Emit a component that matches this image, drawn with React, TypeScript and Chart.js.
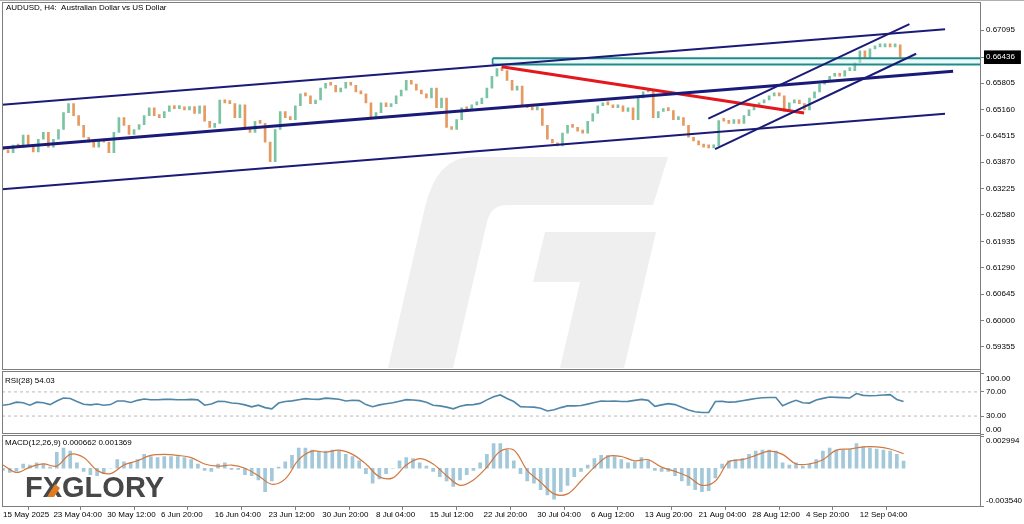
import React, { useEffect, useRef } from "react";
import { Chart, registerables } from "chart.js";

Chart.register(...registerables);

// ---------- DATA ----------
// H4 bar index is the x unit; one candle every 3 H4 bars
const candleStep = 3;
const firstOpen = 0.642;
const closes = [
  0.6417, 0.641, 0.6429, 0.6424, 0.6453, 0.6429, 0.6412, 0.6443, 0.646, 0.6424,
  0.6443, 0.6467, 0.6508, 0.653, 0.6501, 0.6477, 0.6448, 0.6436, 0.6424, 0.6443,
  0.6436, 0.641, 0.646, 0.6496, 0.6477, 0.6455, 0.6467, 0.6479, 0.6501, 0.652,
  0.6501, 0.6496, 0.6511, 0.6525, 0.6518, 0.652, 0.6515, 0.6523, 0.6506, 0.6525,
  0.6487, 0.6472, 0.6482, 0.6539, 0.6532, 0.653, 0.6496, 0.6527, 0.6472, 0.646,
  0.6487, 0.6482, 0.6436, 0.6388, 0.6467, 0.6511, 0.6496, 0.6491, 0.6525, 0.6554,
  0.6549, 0.653, 0.6539, 0.6568, 0.658, 0.6575, 0.6559, 0.6568, 0.6582, 0.6575,
  0.6559, 0.6554, 0.6532, 0.6496, 0.6508, 0.6532, 0.6523, 0.653, 0.6549, 0.6563,
  0.6587, 0.6578, 0.6563, 0.6554, 0.6544, 0.6568, 0.652, 0.6544, 0.6472, 0.6467,
  0.6491, 0.652, 0.6515, 0.6527, 0.653, 0.6544, 0.6568, 0.6597, 0.6616, 0.6611,
  0.6587, 0.6563, 0.6573, 0.6525, 0.652, 0.6515, 0.6518, 0.6477, 0.6443, 0.6434,
  0.6427, 0.6458, 0.6477, 0.6472, 0.6463, 0.6458, 0.6487, 0.6506, 0.6525, 0.653,
  0.6527, 0.652, 0.6525, 0.6511, 0.652, 0.6491, 0.6544, 0.6559, 0.6561, 0.6496,
  0.6511, 0.6515, 0.6513, 0.6491, 0.6496, 0.6477, 0.6448, 0.6439, 0.6429, 0.6424,
  0.6422, 0.6427, 0.6489, 0.6487, 0.6482, 0.6491, 0.6482, 0.6501, 0.6515, 0.6525,
  0.6532, 0.6539, 0.6549, 0.6551, 0.6549, 0.6511, 0.6532, 0.6539, 0.653, 0.6515,
  0.6544, 0.6559, 0.6578, 0.6587, 0.6597, 0.6602, 0.6597, 0.6611, 0.6611, 0.663,
  0.6659, 0.664, 0.6664, 0.6669, 0.6669, 0.6676, 0.6669, 0.6674, 0.6644,
];

const rsiStep = 4;
const rsiValues = [
  47.8, 49.5, 53, 52, 48, 53, 52, 49, 55, 60,
  59, 54, 49.5, 48.5, 50, 48, 49, 55, 55, 52.5,
  56, 58.2, 57, 57, 57.6, 57.6, 57, 57, 57.6, 56.8,
  48, 50, 54.5, 54, 51.5, 50.8, 48.5, 45.2, 48, 44,
  42, 51.5, 54, 55.2, 57, 58.8, 57.8, 57.6, 59.7, 58.8,
  57.8, 55, 56.2, 55.5, 49, 45.5, 48.5, 50.5, 52, 54.5,
  57.2, 56.5, 55.6, 53, 48, 46.8, 44.8, 42, 46.3, 48.5,
  49, 51, 56.8, 62, 65, 59, 54, 45.6, 45, 44.8,
  43, 38.5, 40.3, 44, 46.8, 46.8, 47.5, 49.8, 52.3, 55,
  54.6, 55, 54, 54.3, 56, 57.6, 56, 46, 48.5, 50.5,
  49, 44.5, 40, 37.2, 36, 36, 54, 54.3, 53, 53.5,
  55.4, 57.2, 59.2, 60.3, 60.8, 60.8, 47, 52, 56, 52,
  51.5, 56.5, 59.3, 61.6, 61, 60.5, 60, 67.3, 64.3, 63.6,
  64, 64.8, 65.5, 57.5, 54.03,
];

const macdStep = 4;
const macdHist = [
  -0.0002, -0.0004, -0.0003, 0.0004, 0.0003, 0.0005, 0.0004, 0.0001, 0.0015, 0.0019,
  0.0016, 0.0005, -0.0003, -0.0006, -0.0007, -0.0005, 0, 0.0008, 0.0006, 0.0005,
  0.0008, 0.0013, 0.0011, 0.001, 0.0011, 0.0011, 0.0011, 0.001, 0.0008, 0.0004,
  -0.0002, -0.0003, 0.0004, 0.0005, -0.0001, -0.0001, -0.0006, -0.0007, -0.0011, -0.0022,
  -0.0012, 0.0001, 0.0006, 0.0012, 0.0019, 0.0019, 0.0017, 0.0015, 0.0016, 0.0017,
  0.0016, 0.0013, 0.0011, 0.0007, -0.0005, -0.0014, -0.001, -0.0005, 0, 0.0007,
  0.001, 0.0009, 0.0005, 0.0002, -0.0003, -0.0008, -0.0012, -0.0017, -0.0011, -0.0006,
  -0.0002, 0.0005, 0.0013, 0.0023, 0.0023, 0.0017, 0.0007, -0.0005, -0.0012, -0.0014,
  -0.002, -0.0025, -0.0029, -0.0022, -0.0016, -0.0008, -0.0003, 0.0003, 0.0009, 0.0012,
  0.0012, 0.0011, 0.0008, 0.0005, 0.0006, 0.001, 0.0007, -0.0002, -0.0003, -0.0003,
  -0.0007, -0.0012, -0.0016, -0.002, -0.0022, -0.0021, -0.0009, 0.0004, 0.0007, 0.0008,
  0.0009, 0.0013, 0.0016, 0.0017, 0.0017, 0.0016, 0.0005, 0.0003, 0.0005, 0.0002,
  0.0004, 0.0008, 0.0016, 0.0019, 0.0017, 0.0017, 0.0018, 0.0023, 0.002, 0.0019,
  0.0018, 0.0017, 0.0016, 0.0013, 0.000662,
];

const signalStep = 8;
const macdSignal = [
  0.0003, -0.0004, 0.0001, 0.0004, 0.0002, 0.0013, 0.001, -0.0002, -0.0005, 0.0003,
  0.0007, 0.0012, 0.0013, 0.0012, 0.001, 0.0004, 0.0002, 0.0003, 0.0, -0.0007,
  -0.0015, -0.001, 0.0008, 0.0016, 0.0015, 0.0017, 0.0013, 0.0004, -0.0008, -0.0009,
  0.0003, 0.0009, 0.0004, -0.0007, -0.0016, -0.0011, 0.0001, 0.0016, 0.0017, -0.0002,
  -0.0013, -0.0024, -0.0024, -0.0012, 0.0001, 0.0011, 0.0011, 0.0007, 0.0008, 0.0001,
  -0.0003, -0.0008, -0.0016, -0.0012, 0.0006, 0.0008, 0.0012, 0.0016, 0.0013, 0.0004,
  0.0004, 0.0008, 0.0017, 0.0018, 0.002, 0.002, 0.0018, 0.001369,
];

// drawn objects (x in H4 bar index, y in price)
const upperChannel = [{ x: -0.6, y: 0.65273 }, { x: 560.7, y: 0.67119 }];
const middleChannel = [{ x: -0.6, y: 0.64218 }, { x: 565.5, y: 0.66095 }];
const lowerChannel = [{ x: -0.6, y: 0.63211 }, { x: 560.7, y: 0.65057 }];
const redTrend = [{ x: 296.8, y: 0.66201 }, { x: 476.8, y: 0.65074 }];
const ascUpper = [{ x: 419.8, y: 0.64937 }, { x: 539.5, y: 0.67244 }];
const ascLower = [{ x: 423.8, y: 0.64187 }, { x: 543.5, y: 0.6652 }];
const zoneLeft = 291.5;
const zoneRight = 581.5;
const zoneTop = 0.66412;
const zoneBottom = 0.66257;

const priceTicks = [
  0.67095, 0.66436, 0.65805, 0.6516, 0.64515, 0.6387, 0.63225, 0.6258, 0.61935,
  0.6129, 0.60645, 0.6, 0.59355,
];
const currentPrice = 0.66436;
const rsiTicks = [100, 70, 30, 0];
const rsiLevels = [70, 30];
const macdTicks = [0.002994, -0.00354];
const dateTickBars = [0, 30, 62, 94, 126, 158, 190, 222, 254, 286, 318, 350, 382, 414, 446, 478, 510];
const dateLabels = [
  "15 May 2025", "23 May 04:00", "30 May 12:00", "6 Jun 20:00", "16 Jun 04:00",
  "23 Jun 12:00", "30 Jun 20:00", "8 Jul 04:00", "15 Jul 12:00", "22 Jul 20:00",
  "30 Jul 04:00", "6 Aug 12:00", "13 Aug 20:00", "21 Aug 04:00", "28 Aug 12:00",
  "4 Sep 20:00", "12 Sep 04:00",
];
const titleText = "AUDUSD, H4:  Australian Dollar vs US Dollar";
const rsiLabel = "RSI(28) 54.03";
const macdLabel = "MACD(12,26,9) 0.000662 0.001369";

// ---------- STYLE ----------
const FONT = "'Liberation Sans', Arial, sans-serif";
const BULL = "#7bc4a3";
const BEAR = "#e69a62";
const NAVY = "#1a1a78";
const XMIN = -0.6;
const XMAX = 581.5;

export default function App() {
  const ref = useRef<HTMLCanvasElement>(null);

  useEffect(() => {
    const canvas = ref.current;
    if (!canvas) return;

    const opens = closes.map((c, i) => (i === 0 ? firstOpen : closes[i - 1]));
    const candleData = closes.map((c, i) => ({ x: i * candleStep, y: [opens[i], c] }));
    const candleColors = closes.map((c, i) => (c >= opens[i] ? BULL : BEAR));
    const rsiData = rsiValues.map((v, i) => ({ x: i * rsiStep, y: v }));
    const histData = macdHist.map((v, i) => ({ x: i * macdStep, y: v }));
    const signalData = macdSignal.map((v, i) => ({ x: i * signalStep, y: v }));

    const line = (data: any[], color: string, width: number, extra: any = {}) => ({
      type: "line" as const,
      data,
      yAxisID: "y",
      borderColor: color,
      borderWidth: width,
      pointRadius: 0,
      fill: false,
      order: 0,
      ...extra,
    });

    const decor = {
      id: "decor",
      beforeDatasetsDraw(chart: any) {
        const ctx = chart.ctx;
        ctx.save();
        ctx.fillStyle = "#efefef";
        ctx.beginPath();
        ctx.moveTo(472, 157);
        ctx.lineTo(668, 157);
        ctx.lineTo(653, 205);
        ctx.lineTo(507, 205);
        ctx.quadraticCurveTo(491, 205, 487, 222);
        ctx.lineTo(453, 368);
        ctx.lineTo(388, 368);
        ctx.lineTo(425, 207);
        ctx.quadraticCurveTo(437, 157, 472, 157);
        ctx.closePath();
        ctx.fill();
        ctx.beginPath();
        ctx.moveTo(545, 232);
        ctx.lineTo(656, 232);
        ctx.lineTo(624, 368);
        ctx.lineTo(560, 368);
        ctx.lineTo(580, 282);
        ctx.lineTo(533, 282);
        ctx.closePath();
        ctx.fill();
        ctx.restore();
      },
      afterDraw(chart: any) {
        const ctx = chart.ctx;
        ctx.save();
        // panel frames
        ctx.strokeStyle = "#7d7d7d";
        ctx.lineWidth = 1;
        const frames = [
          [2.5, 2.5, 978, 367],
          [2.5, 371.5, 978, 62],
          [2.5, 435.5, 978, 71],
        ];
        frames.forEach((f) => ctx.strokeRect(f[0], f[1], f[2], f[3]));
        ctx.strokeStyle = "#b0b0b0";
        ctx.beginPath();
        ctx.moveTo(0, 0.5);
        ctx.lineTo(1024, 0.5);
        ctx.stroke();
        // texts
        ctx.fillStyle = "#000";
        ctx.font = `8px ${FONT}`;
        ctx.textBaseline = "middle";
        ctx.textAlign = "left";
        ctx.fillText(titleText, 6, 8);
        ctx.fillText(rsiLabel, 5, 381);
        ctx.fillText(macdLabel, 5, 443);
        // logo
        ctx.font = `bold 29px ${FONT}`;
        ctx.textBaseline = "alphabetic";
        ctx.fillStyle = "#474747";
        ctx.fillText("FXGLORY", 25, 497);
        ctx.fillStyle = "#e07b22";
        ctx.beginPath();
        ctx.moveTo(47, 497);
        ctx.lineTo(54, 497);
        ctx.lineTo(60, 488);
        ctx.lineTo(55, 484);
        ctx.closePath();
        ctx.fill();
        ctx.restore();
      },
    };

    const tickFont = { family: FONT, size: 8 };

    const chart = new Chart(canvas, {
      type: "bar",
      data: {
        datasets: [
          line(upperChannel, NAVY, 2),
          line(middleChannel, NAVY, 3),
          line(lowerChannel, NAVY, 2),
          line(ascUpper, NAVY, 2),
          line(ascLower, NAVY, 2),
          line(redTrend, "#e3171d", 3),
          line(
            [{ x: zoneLeft, y: zoneTop }, { x: zoneRight, y: zoneTop }],
            "#1f8c8c",
            2,
            { order: 1 }
          ),
          line(
            [{ x: zoneLeft, y: zoneBottom }, { x: zoneRight, y: zoneBottom }],
            "#1f8c8c",
            2,
            { order: 1, fill: "-1", backgroundColor: "rgba(215,240,240,0.45)" }
          ),
          line(
            [{ x: zoneLeft, y: zoneTop }, { x: zoneLeft, y: zoneBottom }],
            "#1f8c8c",
            2,
            { order: 1 }
          ),
          {
            type: "bar" as const,
            data: candleData as any,
            yAxisID: "y",
            backgroundColor: candleColors,
            barThickness: 2,
            minBarLength: 3,
            grouped: false,
            order: 10,
          },
          ...rsiLevels.map((lv) =>
            line([{ x: XMIN, y: lv }, { x: XMAX, y: lv }], "#b8b8b8", 1, {
              yAxisID: "yRsi",
              borderDash: [3, 3],
              order: 5,
            })
          ),
          line(rsiData, "#4f86a8", 1.6, { yAxisID: "yRsi" }),
          {
            type: "bar" as const,
            data: histData as any,
            yAxisID: "yMacd",
            backgroundColor: "#a3c8da",
            barThickness: 3,
            grouped: false,
            order: 10,
          },
          line(signalData, "#d2773d", 1.2, { yAxisID: "yMacd", tension: 0.35 }),
        ] as any,
      },
      options: {
        animation: false,
        responsive: false,
        devicePixelRatio: 1,
        events: [],
        layout: { padding: { left: 2, top: 2, right: 0, bottom: 0 } },
        plugins: { legend: { display: false }, tooltip: { enabled: false } },
        scales: {
          x: {
            type: "linear",
            min: XMIN,
            max: XMAX,
            offset: false,
            position: "bottom",
            afterBuildTicks: (s: any) => {
              s.ticks = dateTickBars.map((v) => ({ value: v }));
            },
            afterFit: (s: any) => {
              s.height = 18;
            },
            ticks: {
              autoSkip: false,
              maxRotation: 0,
              minRotation: 0,
              align: "start",
              padding: 0,
              color: "#000",
              font: tickFont,
              callback: (_v: any, i: number) => dateLabels[i],
            },
            grid: { drawOnChartArea: false, drawTicks: true, tickLength: 4, color: "#808080" },
            border: { display: false },
          },
          y: {
            type: "linear",
            position: "right",
            stack: "panels",
            stackWeight: 368,
            min: 0.58727,
            max: 0.67551,
            afterBuildTicks: (s: any) => {
              s.ticks = priceTicks.map((v) => ({ value: v }));
            },
            afterFit: (s: any) => {
              s.width = 44;
            },
            ticks: {
              autoSkip: false,
              padding: 2,
              font: tickFont,
              color: (c: any) => (c.tick && c.tick.value === currentPrice ? "#fff" : "#000"),
              showLabelBackdrop: (c: any) => !!(c.tick && c.tick.value === currentPrice),
              backdropColor: "#000",
              backdropPadding: { top: 2, bottom: 2, left: 2, right: 6 },
              callback: (v: any) => Number(v).toFixed(5),
            },
            grid: { drawOnChartArea: false, drawTicks: true, tickLength: 4, color: "#808080" },
            border: { display: true, color: "#7d7d7d" },
          },
          yRsi: {
            type: "linear",
            position: "right",
            stack: "panels",
            stackWeight: 64,
            min: -2,
            max: 102,
            afterBuildTicks: (s: any) => {
              s.ticks = rsiTicks.map((v) => ({ value: v }));
            },
            afterFit: (s: any) => {
              s.width = 44;
            },
            ticks: {
              autoSkip: false,
              padding: 2,
              font: tickFont,
              color: "#000",
              callback: (v: any) => {
                const t = Number(v).toFixed(2);
                if (v === 100) return ["", t];
                if (v === 0) return [t, ""];
                return t;
              },
            },
            grid: { drawOnChartArea: false, drawTicks: true, tickLength: 4, color: "#808080" },
            border: { display: true, color: "#7d7d7d" },
          },
          yMacd: {
            type: "linear",
            position: "right",
            stack: "panels",
            stackWeight: 72,
            min: -0.00354,
            max: 0.00308,
            afterBuildTicks: (s: any) => {
              s.ticks = macdTicks.map((v) => ({ value: v }));
            },
            afterFit: (s: any) => {
              s.width = 44;
            },
            ticks: {
              autoSkip: false,
              padding: 2,
              font: tickFont,
              color: "#000",
              callback: (v: any) => {
                const t = Number(v).toFixed(6);
                return v > 0 ? ["", t] : [t, ""];
              },
            },
            grid: { drawOnChartArea: false, drawTicks: true, tickLength: 4, color: "#808080" },
            border: { display: true, color: "#7d7d7d" },
          },
        },
      } as any,
      plugins: [decor],
    });

    return () => chart.destroy();
  }, []);

  return (
    <div style={{ position: "absolute", left: 0, top: 0, width: 1024, height: 524, background: "#fff" }}>
      <canvas ref={ref} width={1024} height={524} style={{ display: "block", width: 1024, height: 524 }} />
    </div>
  );
}
